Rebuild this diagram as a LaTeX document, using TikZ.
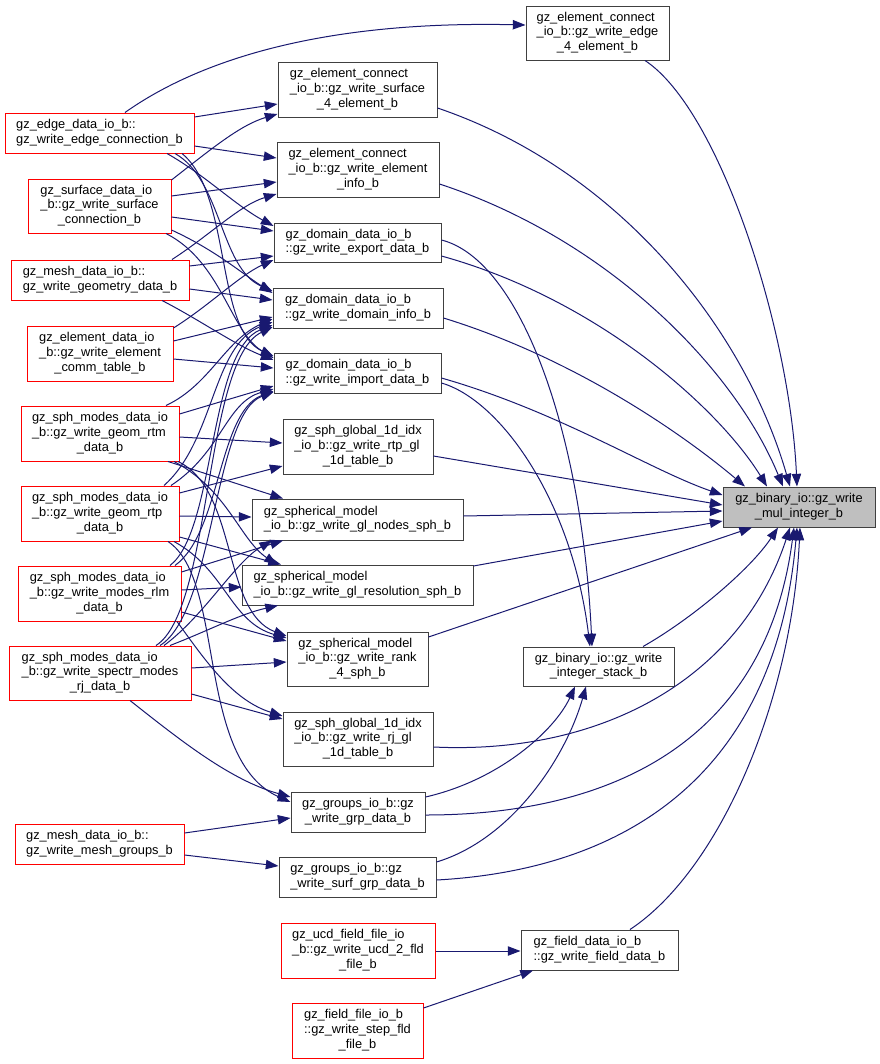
\documentclass[tikz,border=0pt]{standalone}
\usepackage{fontspec}
\setmainfont{Liberation Sans}
\usetikzlibrary{arrows.meta}
\definecolor{ecol}{HTML}{191970}
\definecolor{bcol}{HTML}{404040}
\definecolor{rcol}{HTML}{FF0000}
\definecolor{rootfill}{HTML}{BFBFBF}
\newcommand\glines[2]{\begin{tabular}{@{}l@{}}#1\\\multicolumn{1}{@{}c@{}}{#2}\end{tabular}}
\begin{document}
\begin{tikzpicture}[x=0.75pt,y=-0.75pt,
  box/.style={draw=bcol, line width=0.75pt, inner sep=0pt, font=\fontsize{9.6}{11}\selectfont, text=black},
  rbox/.style={box, draw=rcol},
  edge/.style={draw=ecol, line width=0.75pt, -{Triangle[length=9.5pt,width=7pt]}}]
\fill[white] (0,0) rectangle (880,1064);
\useasboundingbox (0,0) rectangle (880,1064);

% right column
\node[box, fill=rootfill, minimum width=114pt, minimum height=30pt] (mul) at (799,507) {\glines{gz\_binary\_io::gz\_write}{\_mul\_integer\_b}};
\node[box, minimum width=107.25pt, minimum height=40.5pt] (e4) at (597.5,33) {\glines{gz\_element\_connect\\\_io\_b::gz\_write\_edge}{\_4\_element\_b}};
\node[box, minimum width=113.25pt, minimum height=29.25pt] (stack) at (598.5,666.5) {\glines{gz\_binary\_io::gz\_write}{\_integer\_stack\_b}};
\node[box, minimum width=117.75pt, minimum height=30pt] (field) at (599.5,950) {\glines{gz\_field\_data\_io\_b}{::gz\_write\_field\_data\_b}};

% middle column
\node[box, minimum width=119.25pt, minimum height=41.25pt] (surf4) at (357.5,89.5) {\glines{gz\_element\_connect\\\_io\_b::gz\_write\_surface}{\_4\_element\_b}};
\node[box, minimum width=121.5pt, minimum height=41.25pt] (elinfo) at (358,169.5) {\glines{gz\_element\_connect\\\_io\_b::gz\_write\_element}{\_info\_b}};
\node[box, minimum width=125.25pt, minimum height=29.25pt] (export) at (357.5,242.5) {\glines{gz\_domain\_data\_io\_b}{::gz\_write\_export\_data\_b}};
\node[box, minimum width=127.5pt, minimum height=30pt] (dominfo) at (358,308) {\glines{gz\_domain\_data\_io\_b}{::gz\_write\_domain\_info\_b}};
\node[box, minimum width=125.25pt, minimum height=30pt] (import) at (357.5,373) {\glines{gz\_domain\_data\_io\_b}{::gz\_write\_import\_data\_b}};
\node[box, minimum width=112.5pt, minimum height=41.25pt] (rtpgl) at (358,446.5) {\glines{gz\_sph\_global\_1d\_idx\\\_io\_b::gz\_write\_rtp\_gl}{\_1d\_table\_b}};
\node[box, minimum width=158.25pt, minimum height=30.75pt] (glnodes) at (357.5,519.5) {\glines{gz\_spherical\_model}{\_io\_b::gz\_write\_gl\_nodes\_sph\_b}};
\node[box, minimum width=173.25pt, minimum height=30pt] (glres) at (357.5,585) {\glines{gz\_spherical\_model}{\_io\_b::gz\_write\_gl\_resolution\_sph\_b}};
\node[box, minimum width=105.75pt, minimum height=40.5pt] (rank4) at (357.5,659) {\glines{gz\_spherical\_model\\\_io\_b::gz\_write\_rank}{\_4\_sph\_b}};
\node[box, minimum width=112.5pt, minimum height=40.5pt] (rjgl) at (358,739) {\glines{gz\_sph\_global\_1d\_idx\\\_io\_b::gz\_write\_rj\_gl}{\_1d\_table\_b}};
\node[box, minimum width=100.5pt, minimum height=30pt] (grp) at (358,812) {\glines{gz\_groups\_io\_b::gz}{\_write\_grp\_data\_b}};
\node[box, minimum width=117.75pt, minimum height=30pt] (surfgrp) at (357.5,877) {\glines{gz\_groups\_io\_b::gz}{\_write\_surf\_grp\_data\_b}};
\node[rbox, minimum width=115.5pt, minimum height=41.25pt] (ucd) at (358,950.5) {\glines{gz\_ucd\_field\_file\_io\\\_b::gz\_write\_ucd\_2\_fld}{\_file\_b}};
\node[rbox, minimum width=98.25pt, minimum height=41.25pt] (stepfld) at (357.5,1030.5) {\glines{gz\_field\_file\_io\_b\\::gz\_write\_step\_fld}{\_file\_b}};

% left column
\node[rbox, minimum width=141.75pt, minimum height=30pt] (econn) at (99.5,133) {\glines{gz\_edge\_data\_io\_b::}{gz\_write\_edge\_connection\_b}};
\node[rbox, minimum width=107.25pt, minimum height=40.5pt] (sconn) at (99.5,206) {\glines{gz\_surface\_data\_io\\\_b::gz\_write\_surface}{\_connection\_b}};
\node[rbox, minimum width=133.5pt, minimum height=30pt] (geom) at (100,280) {\glines{gz\_mesh\_data\_io\_b::}{gz\_write\_geometry\_data\_b}};
\node[rbox, minimum width=109.5pt, minimum height=41.25pt] (comm) at (100,353.5) {\glines{gz\_element\_data\_io\\\_b::gz\_write\_element}{\_comm\_table\_b}};
\node[rbox, minimum width=118.5pt, minimum height=41.25pt] (rtm) at (100,433.5) {\glines{gz\_sph\_modes\_data\_io\\\_b::gz\_write\_geom\_rtm}{\_data\_b}};
\node[rbox, minimum width=118.5pt, minimum height=41.25pt] (rtp) at (100,513.5) {\glines{gz\_sph\_modes\_data\_io\\\_b::gz\_write\_geom\_rtp}{\_data\_b}};
\node[rbox, minimum width=122.25pt, minimum height=41.25pt] (rlm) at (99.5,593.5) {\glines{gz\_sph\_modes\_data\_io\\\_b::gz\_write\_modes\_rlm}{\_data\_b}};
\node[rbox, minimum width=136.5pt, minimum height=40.5pt] (rj) at (100,673) {\glines{gz\_sph\_modes\_data\_io\\\_b::gz\_write\_spectr\_modes}{\_rj\_data\_b}};
\node[rbox, minimum width=126.75pt, minimum height=30pt] (mesh) at (99.5,844) {\glines{gz\_mesh\_data\_io\_b::}{gz\_write\_mesh\_groups\_b}};

% edges from edge connection
\draw[edge] (econn.north -| 125,0) .. controls (185,70) and (300,20) .. (e4.west |- 0,25);
\draw[edge] (econn.east |- 0,117) -- (surf4.west |- 0,104);
\draw[edge] (econn.east |- 0,146) -- (elinfo.west |- 0,158);
\draw[edge] (econn.south -| 167,0) .. controls (205,175) and (235,205) .. (export.west |- 0,226);
\draw[edge] (econn.south -| 175,0) .. controls (222,180) and (220,268) .. (dominfo.west |- 0,291);
\draw[edge] (econn.south -| 182,0) .. controls (232,195) and (215,330) .. (import.west |- 0,356);

% surface connection
\draw[edge] (sconn.east |- 0,180) .. controls (210,150) and (240,125) .. (surf4.west |- 0,114);
\draw[edge] (sconn.east |- 0,196) -- (elinfo.west |- 0,182);
\draw[edge] (sconn.east |- 0,217) -- (export.west |- 0,231);
\draw[edge] (sconn.east |- 0,230) .. controls (215,250) and (240,272) .. (dominfo.west |- 0,293);
\draw[edge] (sconn.south -| 166,0) .. controls (222,262) and (230,332) .. (import.west |- 0,358);

% geometry
\draw[edge] (geom.north -| 172,0) .. controls (210,235) and (240,205) .. (elinfo.west |- 0,194);
\draw[edge] (geom.east |- 0,266) -- (export.west |- 0,256);
\draw[edge] (geom.east |- 0,289) -- (dominfo.west |- 0,300);
\draw[edge] (geom.south -| 162,0) .. controls (200,320) and (235,345) .. (import.west |- 0,360);

% comm table
\draw[edge] (comm.east |- 0,328) .. controls (210,305) and (240,275) .. (export.west |- 0,260);
\draw[edge] (comm.east |- 0,341) -- (dominfo.west |- 0,317);
\draw[edge] (comm.east |- 0,359) -- (import.west |- 0,368);

% geom rtm
\draw[edge] (rtm.north -| 166,0) .. controls (210,385) and (225,340) .. (dominfo.west |- 0,319);
\draw[edge] (rtm.east |- 0,414) -- (import.west |- 0,386);
\draw[edge] (rtm.east |- 0,437) -- (rtpgl.west |- 0,443);
\draw[edge] (rtm.south -| 168,0) -- (glnodes.north -| 283,0);
\draw[edge] (rtm.south -| 174,0) .. controls (228,490) and (240,540) .. (glres.north -| 277,0);
\draw[edge] (rtm.south -| 178,0) .. controls (238,490) and (222,612) .. (rank4.west |- 0,636);

% geom rtp
\draw[edge] (rtp.north -| 164,0) .. controls (215,440) and (212,345) .. (dominfo.west |- 0,322);
\draw[edge] (rtp.north -| 171,0) .. controls (222,452) and (226,402) .. (import.west |- 0,389);
\draw[edge] (rtp.east |- 0,493) -- (rtpgl.west |- 0,466);
\draw[edge] (rtp.east |- 0,516) -- (glnodes.west |- 0,517);
\draw[edge] (rtp.east |- 0,537) -- (glres.north -| 281,0);
\draw[edge] (rtp.south -| 174,0) .. controls (226,570) and (230,622) .. (rank4.west |- 0,638);
\draw[edge] (rtp.south -| 168,0) .. controls (226,580) and (195,760) .. (grp.west |- 0,802);

% modes rlm
\draw[edge] (rlm.north -| 170,0) .. controls (216,530) and (208,350) .. (dominfo.west |- 0,325);
\draw[edge] (rlm.north -| 175,0) .. controls (221,532) and (218,412) .. (import.west |- 0,391);
\draw[edge] (rlm.east |- 0,572) -- (glnodes.south -| 283,0);
\draw[edge] (rlm.east |- 0,590) -- (glres.west |- 0,587);
\draw[edge] (rlm.east |- 0,612) -- (rank4.west |- 0,641);
\draw[edge] (rlm.south -| 177,0) .. controls (205,660) and (232,700) .. (rjgl.west |- 0,716);

% spectr rj
\draw[edge] (rj.north -| 156,0) .. controls (212,610) and (204,360) .. (dominfo.west |- 0,327);
\draw[edge] (rj.north -| 160,0) .. controls (214,612) and (214,414) .. (import.west |- 0,392);
\draw[edge] (rj.north -| 164,0) .. controls (205,615) and (235,562) .. (glnodes.south -| 272,0);
\draw[edge] (rj.north -| 170,0) .. controls (210,630) and (240,614) .. (glres.south -| 278,0);
\draw[edge] (rj.east |- 0,668) -- (rank4.west |- 0,662);
\draw[edge] (rj.east |- 0,694) -- (rjgl.west |- 0,719);
\draw[edge] (rj.south -| 130,0) .. controls (180,740) and (230,780) .. (grp.west |- 0,797);

% mesh groups and field files
\draw[edge] (mesh.east |- 0,833) -- (grp.west |- 0,818);
\draw[edge] (mesh.east |- 0,855) -- (surfgrp.west |- 0,866);
\draw[edge] (ucd.east |- 0,951) -- (field.west |- 0,951);
\draw[edge] (stepfld.east |- 0,1008) -- (field.south -| 533,0);

% into integer stack
\draw[edge] (export.east |- 0,240) .. controls (520,260) and (582,430) .. (stack.north -| 592,0);
\draw[edge] (import.east |- 0,383) .. controls (500,400) and (572,500) .. (stack.north -| 590,0);
\draw[edge] (grp.east |- 0,797) .. controls (500,780) and (555,730) .. (stack.south -| 575,0);
\draw[edge] (surfgrp.east |- 0,862) .. controls (510,840) and (565,760) .. (stack.south -| 586,0);

% into mul integer
\draw[edge] (e4.south -| 645,0) .. controls (720,110) and (790,330) .. (mul.north -| 797,0);
\draw[edge] (surf4.east |- 0,108) .. controls (620,170) and (745,330) .. (mul.north -| 790,0);
\draw[edge] (elinfo.east |- 0,184) .. controls (610,240) and (735,370) .. (mul.north -| 783,0);
\draw[edge] (export.east |- 0,256) .. controls (600,300) and (720,410) .. (mul.north -| 767,0);
\draw[edge] (dominfo.east |- 0,318) .. controls (580,360) and (690,440) .. (mul.north -| 745,0);
\draw[edge] (import.east |- 0,378) .. controls (560,412) and (650,470) .. (mul.west |- 0,495);
\draw[edge] (rtpgl.east |- 0,456) -- (mul.west |- 0,505);
\draw[edge] (glnodes.east |- 0,516) -- (mul.west |- 0,511);
\draw[edge] (glres.east |- 0,566) -- (mul.west |- 0,521);
\draw[edge] (rank4.east |- 0,637) -- (mul.south -| 752,0);
\draw[edge] (stack.north -| 643,0) .. controls (690,620) and (750,570) .. (mul.south -| 778,0);
\draw[edge] (rjgl.east |- 0,747) .. controls (600,755) and (740,680) .. (mul.south -| 790,0);
\draw[edge] (grp.east |- 0,815) .. controls (600,815) and (765,750) .. (mul.south -| 794,0);
\draw[edge] (surfgrp.east |- 0,880) .. controls (620,870) and (775,780) .. (mul.south -| 797,0);
\draw[edge] (field.north -| 630,0) .. controls (720,870) and (792,700) .. (mul.south -| 800,0);
\end{tikzpicture}
\end{document}
